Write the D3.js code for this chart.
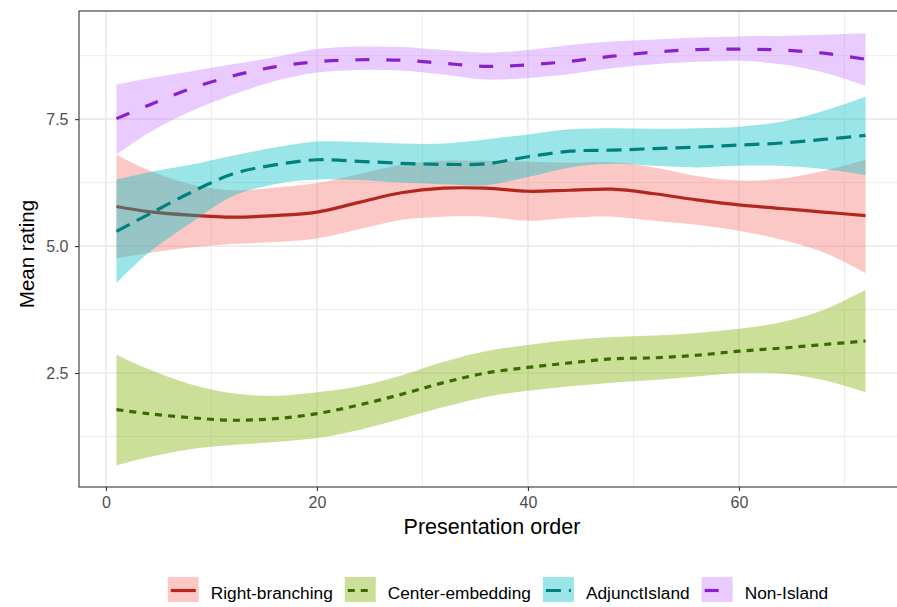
<!DOCTYPE html>
<html>
<head>
<meta charset="utf-8">
<script src="https://cdn.jsdelivr.net/npm/d3@7"></script>
<style>
  html, body { margin: 0; padding: 0; background: #fff; }
  svg { display: block; font-family: "Liberation Sans", Arial, Helvetica, sans-serif; }
</style>
</head>
<body>
<svg id="chart" width="897" height="607"></svg>
<script>
// Presentation order at which the smoothed ratings are sampled
const order = [1, 4, 8, 12, 16, 20, 24, 28, 32, 36, 40, 44, 48, 52, 56, 60, 64, 68, 72];

// Right-branching
const rbMean  = [5.78, 5.68, 5.61, 5.57, 5.60, 5.67, 5.86, 6.05, 6.14, 6.14, 6.08, 6.10, 6.12, 6.03, 5.91, 5.81, 5.74, 5.67, 5.60];
const rbLower = [4.76, 4.86, 4.97, 5.04, 5.08, 5.15, 5.33, 5.52, 5.58, 5.58, 5.50, 5.56, 5.58, 5.50, 5.42, 5.30, 5.13, 4.88, 4.47];
const rbUpper = [6.80, 6.50, 6.22, 6.10, 6.15, 6.24, 6.42, 6.60, 6.68, 6.68, 6.66, 6.64, 6.65, 6.55, 6.38, 6.29, 6.33, 6.48, 6.70];

// Center-embedding
const ceMean  = [1.78, 1.70, 1.62, 1.57, 1.60, 1.70, 1.87, 2.08, 2.31, 2.50, 2.61, 2.70, 2.78, 2.80, 2.85, 2.93, 2.99, 3.06, 3.13];
const ceLower = [0.68, 0.84, 1.00, 1.08, 1.14, 1.22, 1.38, 1.60, 1.83, 2.03, 2.15, 2.24, 2.31, 2.36, 2.43, 2.50, 2.49, 2.36, 2.12];
const ceUpper = [2.86, 2.58, 2.28, 2.10, 2.05, 2.12, 2.24, 2.45, 2.72, 2.93, 3.05, 3.15, 3.21, 3.24, 3.29, 3.37, 3.50, 3.74, 4.14];

// AdjunctIsland
const aiMean  = [5.29, 5.62, 6.05, 6.42, 6.60, 6.70, 6.67, 6.63, 6.61, 6.62, 6.76, 6.87, 6.89, 6.92, 6.95, 6.99, 7.03, 7.10, 7.18];
const aiLower = [4.27, 4.86, 5.45, 5.98, 6.22, 6.31, 6.30, 6.25, 6.22, 6.20, 6.36, 6.55, 6.62, 6.58, 6.55, 6.58, 6.58, 6.52, 6.40];
const aiUpper = [6.31, 6.45, 6.60, 6.78, 6.94, 7.06, 7.05, 7.02, 7.02, 7.10, 7.20, 7.30, 7.32, 7.31, 7.32, 7.35, 7.45, 7.66, 7.94];

// Non-Island
const niMean  = [7.51, 7.77, 8.10, 8.35, 8.53, 8.63, 8.67, 8.66, 8.60, 8.54, 8.57, 8.64, 8.74, 8.82, 8.87, 8.88, 8.86, 8.80, 8.68];
const niLower = [6.80, 7.22, 7.65, 7.98, 8.25, 8.42, 8.47, 8.46, 8.38, 8.28, 8.31, 8.39, 8.50, 8.58, 8.63, 8.65, 8.58, 8.42, 8.16];
const niUpper = [8.18, 8.30, 8.44, 8.58, 8.72, 8.88, 8.93, 8.92, 8.86, 8.81, 8.86, 8.96, 9.03, 9.07, 9.11, 9.13, 9.14, 9.16, 9.19];

const conditions = ["Right-branching", "Center-embedding", "AdjunctIsland", "Non-Island"];
const xTicks = [0, 20, 40, 60];
const yTicks = [2.5, 5.0, 7.5];
const xMinor = [10, 30, 50, 70];
const yMinor = [1.25, 3.75, 6.25, 8.75];

const seriesData = [
  { name: conditions[0], mean: rbMean, lower: rbLower, upper: rbUpper,
    fill: "#F8766D", stroke: "#B2271B", dash: null },
  { name: conditions[1], mean: ceMean, lower: ceLower, upper: ceUpper,
    fill: "#7CAE00", stroke: "#3A6B00", dash: "7,6" },
  { name: conditions[2], mean: aiMean, lower: aiLower, upper: aiUpper,
    fill: "#00BFC4", stroke: "#00807F", dash: "15,8" },
  { name: conditions[3], mean: niMean, lower: niLower, upper: niUpper,
    fill: "#C77CFF", stroke: "#8A1FD0", dash: "14,17" }
];

const svg = d3.select("#chart");
const panel = { left: 79, top: 11, right: 903, bottom: 487 };

const x = d3.scaleLinear().domain([-2.55, 75.55]).range([panel.left, panel.right]);
const y = d3.scaleLinear().domain([0.255, 9.63]).range([panel.bottom, panel.top]);

svg.append("defs").append("clipPath").attr("id", "panelClip")
  .append("rect")
  .attr("x", panel.left).attr("y", panel.top)
  .attr("width", panel.right - panel.left).attr("height", panel.bottom - panel.top);

// grid
const grid = svg.append("g");
grid.selectAll(".xminor").data(xMinor).join("line")
  .attr("x1", d => x(d)).attr("x2", d => x(d))
  .attr("y1", panel.top).attr("y2", panel.bottom)
  .attr("stroke", "#EBEBEB").attr("stroke-width", 0.9);
grid.selectAll(".yminor").data(yMinor).join("line")
  .attr("y1", d => y(d)).attr("y2", d => y(d))
  .attr("x1", panel.left).attr("x2", panel.right)
  .attr("stroke", "#EBEBEB").attr("stroke-width", 0.9);
grid.selectAll(".xmajor").data(xTicks).join("line")
  .attr("x1", d => x(d)).attr("x2", d => x(d))
  .attr("y1", panel.top).attr("y2", panel.bottom)
  .attr("stroke", "#EBEBEB").attr("stroke-width", 1.6);
grid.selectAll(".ymajor").data(yTicks).join("line")
  .attr("y1", d => y(d)).attr("y2", d => y(d))
  .attr("x1", panel.left).attr("x2", panel.right)
  .attr("stroke", "#EBEBEB").attr("stroke-width", 1.6);

// smoothed curves with confidence ribbons
const curve = d3.curveCatmullRom.alpha(0.5);
const area = d3.area()
  .x(d => x(d.o)).y0(d => y(d.lo)).y1(d => y(d.hi))
  .curve(curve);
const line = d3.line()
  .x(d => x(d.o)).y(d => y(d.m))
  .curve(curve);

const plot = svg.append("g").attr("clip-path", "url(#panelClip)");
seriesData.forEach(s => {
  const pts = order.map((o, i) => ({ o, m: s.mean[i], lo: s.lower[i], hi: s.upper[i] }));
  plot.append("path").datum(pts)
    .attr("d", area)
    .attr("fill", s.fill).attr("fill-opacity", 0.4);
  plot.append("path").datum(pts)
    .attr("d", line)
    .attr("fill", "none")
    .attr("stroke", s.stroke)
    .attr("stroke-width", 3.2)
    .attr("stroke-dasharray", s.dash);
});

// panel border
svg.append("rect")
  .attr("x", panel.left).attr("y", panel.top)
  .attr("width", panel.right - panel.left).attr("height", panel.bottom - panel.top)
  .attr("fill", "none").attr("stroke", "#333333").attr("stroke-width", 1.1);

// axes
const xAxis = svg.append("g")
  .attr("transform", `translate(0,${panel.bottom})`)
  .call(d3.axisBottom(x).tickValues(xTicks).tickSize(4).tickPadding(6).tickFormat(d3.format("d")));
const yAxis = svg.append("g")
  .attr("transform", `translate(${panel.left},0)`)
  .call(d3.axisLeft(y).tickValues(yTicks).tickSize(4).tickPadding(6.5).tickFormat(d3.format(".1f")));
[xAxis, yAxis].forEach(a => {
  a.select(".domain").remove();
  a.selectAll(".tick line").attr("stroke", "#333333").attr("stroke-width", 1.1);
  a.selectAll(".tick text")
    .attr("fill", "#4D4D4D")
    .style("font-size", "16px")
    .style("font-family", "'Liberation Sans', Arial, sans-serif");
});

// axis titles
svg.append("text")
  .attr("x", 492).attr("y", 534)
  .attr("text-anchor", "middle")
  .style("font-size", "21.5px").attr("fill", "#000")
  .text("Presentation order");
svg.append("text")
  .attr("transform", `translate(34,254) rotate(-90)`)
  .attr("text-anchor", "middle")
  .style("font-size", "20.5px").attr("fill", "#000")
  .text("Mean rating");

// legend
const legend = svg.append("g");
const keyW = 31, keyH = 25, textGap = 12, itemGap = 12;
let cx = 0;
seriesData.forEach(s => {
  const g = legend.append("g").attr("transform", `translate(${cx},0)`);
  g.append("rect").attr("width", keyW).attr("height", keyH)
    .attr("fill", s.fill).attr("fill-opacity", 0.4);
  g.append("line")
    .attr("x1", 3).attr("x2", keyW - 3)
    .attr("y1", keyH / 2 + 1).attr("y2", keyH / 2 + 1)
    .attr("stroke", s.stroke).attr("stroke-width", 3.2)
    .attr("stroke-dasharray", s.dash);
  const t = g.append("text")
    .attr("x", keyW + textGap).attr("y", 22)
    .style("font-size", "17.3px").attr("fill", "#000")
    .text(s.name);
  const w = t.node().getComputedTextLength();
  cx += keyW + textGap + w + itemGap;
});
const legendWidth = cx - itemGap;
legend.attr("transform", `translate(${498 - legendWidth / 2},577)`);
</script>
</body>
</html>
